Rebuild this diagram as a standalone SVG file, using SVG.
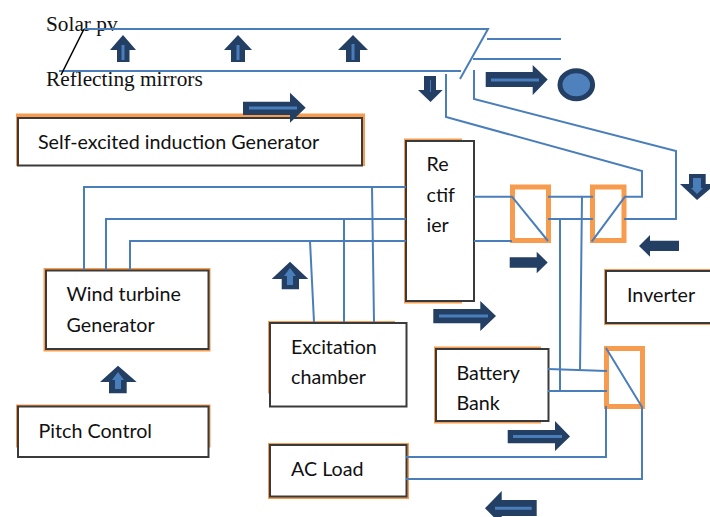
<svg xmlns="http://www.w3.org/2000/svg" width="710" height="517" viewBox="0 0 710 517">
<style>
.o{fill:#f79646;stroke:none;opacity:.95}
.b{fill:#fff;stroke:#3a3a3a;stroke-width:2}
.t{font-family:Lato,"Open Sans",sans-serif;font-size:19.7px;fill:#111}
.s{font-family:"Liberation Serif",serif;font-size:21.3px;fill:#111}
.c{fill:none;stroke:#4a7ebb;stroke-width:2}
.f{fill:#fff;stroke:#f79646;stroke-width:5;stroke-opacity:.95}
.a{fill:#243f64;stroke:none}
.i{fill:none;stroke:#4a7ebb;stroke-width:3}
.e{fill:#4f81bd;stroke:#243f64;stroke-width:5}
</style>
<rect width="710" height="517" fill="#fff"/>
<g id="labels">
<text class="s" x="46" y="31">Solar pv</text>
<text class="s" x="46" y="86">Reflecting mirrors</text>
</g>
<g id="self-excited-generator"><rect class="o" x="16" y="113.5" width="349" height="52.5"/><rect class="b" x="18" y="118" width="344" height="47.5"/><text class="t" x="38" y="148.5">Self-excited induction Generator</text></g>
<g id="rectifier"><rect class="o" x="404" y="138.5" width="58" height="165"/><rect class="b" x="406" y="141" width="68" height="160"/><text class="t" x="426.5" y="171">Re</text><text class="t" x="426.5" y="202">ctif</text><text class="t" x="426.5" y="232">ier</text></g>
<g id="wind-turbine-generator"><rect class="o" x="43.5" y="268" width="167" height="83.5"/><rect class="b" x="46" y="270.5" width="162.5" height="78.5"/><text class="t" x="66.5" y="301">Wind turbine</text><text class="t" x="66.5" y="332">Generator</text></g>
<g id="excitation-chamber"><rect class="o" x="268" y="321" width="127" height="72.5"/><rect class="b" x="270" y="323" width="136.5" height="83.5"/><text class="t" x="291" y="353.5">Excitation</text><text class="t" x="291" y="383.5">chamber</text></g>
<g id="pitch-control"><rect class="o" x="16" y="404.5" width="194.5" height="43"/><rect class="b" x="18" y="406.5" width="190.5" height="50.5"/><text class="t" x="38.5" y="438">Pitch Control</text></g>
<g id="ac-load"><rect class="o" x="268" y="443" width="141" height="56"/><rect class="b" x="270" y="445" width="136.5" height="51.5"/><text class="t" x="291" y="476">AC Load</text></g>
<g id="battery-bank"><rect class="o" x="434" y="346.5" width="107" height="77"/><rect class="b" x="436" y="349" width="112.5" height="72"/><text class="t" x="456.5" y="380">Battery</text><text class="t" x="456.5" y="409.5">Bank</text></g>
<g id="inverter"><rect class="o" x="604" y="269" width="110" height="56"/><rect class="b" x="606" y="271" width="110" height="52"/><text class="t" x="627" y="302">Inverter</text></g>
<g id="converter-1"><rect class="f" x="512.5" y="187" width="36" height="53.5"/></g>
<g id="converter-2"><rect class="f" x="592.5" y="187" width="31.5" height="53.5"/></g>
<g id="converter-3"><rect class="f" x="606.5" y="348.5" width="36" height="58"/></g>
<g id="connectors">
<path class="c" d="M84 29H488L460 79M59 71H461M487 39H561M473 59H561"/>
<path d="M84 29L61 75" fill="none" stroke="#000" stroke-width="1.5"/>
<path class="c" d="M446 74V117L642 171V196.7H624M474 70V99L676 151V219H624"/>
<path class="c" d="M84 270V187H406M106 270V219H406M130 270V241H406"/>
<path class="c" d="M372 187L374 322M344 219V322M310 241L314 322"/>
<path class="c" d="M474 196.7H512L548 241M474 241H512"/>
<path class="c" d="M548 196.7H593M548 219H593M591.7 241.7L625 196.7"/>
<path class="c" d="M582 196.7L580 371M560 219V391"/>
<path class="c" d="M548 369L607 371M548 391H607M606 348L642 407V479H406M606 406V457H406"/>
</g>
<g id="arrows">
<path class="a" d="M123 35L136 50H129.5V62H117V50H110Z"/><path class="i" d="M123 45V60"/>
<path class="a" d="M238 35L252 50H245V62H231V50H224Z"/><path class="i" d="M238 45V60"/>
<path class="a" d="M353 35L368 50H360V62H346V50H338Z"/><path class="i" d="M353 44V60"/>
<path class="a" d="M243 101.7H290V92.7L305.7 107.7L290 122.7V115H243Z"/><path class="i" d="M249 108H297"/>
<path class="a" d="M424 76H436V90H442.7L430.5 102L418 90H424Z"/><path class="i" d="M430.5 80V92" style="stroke-width:1"/>
<path class="a" d="M485.7 72H532.7V65L547.7 79.5L532.7 95V87H485.7Z"/><path class="i" d="M491 80H539"/>
<ellipse class="e" cx="576.3" cy="84.7" rx="16.3" ry="14"/>
<path class="a" d="M689 174H705.7V184H716L697 200L680 184H689Z"/><path d="M693 178H701V188H703L697 194L691 188H693Z" fill="#4a7ebb"/>
<path class="a" d="M679 240.7V251H650V256.7L639 246L650 235V240.7Z"/>
<path class="a" d="M509.7 257.3H536.7V251.7L547.7 262.5L536.7 273.3V267.7H509.7Z"/>
<path class="a" d="M433.3 309H480.3V301L496 316L480.3 331V323.3H433.3Z"/><path class="i" d="M439 316H488"/>
<path class="a" d="M290 261.7L308.3 279H299V289.3H281.7V279H271.7Z"/><path d="M290 268L296 276H293V285H287V276H284Z" fill="#4a7ebb"/>
<path class="a" d="M118 365.7L136.7 382H126.7V393.3H109V382H100Z"/><path d="M118 372L124 380H121V389H115V380H112Z" fill="#4a7ebb"/>
<path class="a" d="M507.7 430H555V421L570 436.5L555 451V443.3H507.7Z"/><path class="i" d="M513 436.5H562"/>
<path class="a" d="M536.7 500V516H501.7V525L485 508.3L501.7 491V500Z"/><path class="i" d="M531.7 508.3H495"/>
</g>
</svg>
